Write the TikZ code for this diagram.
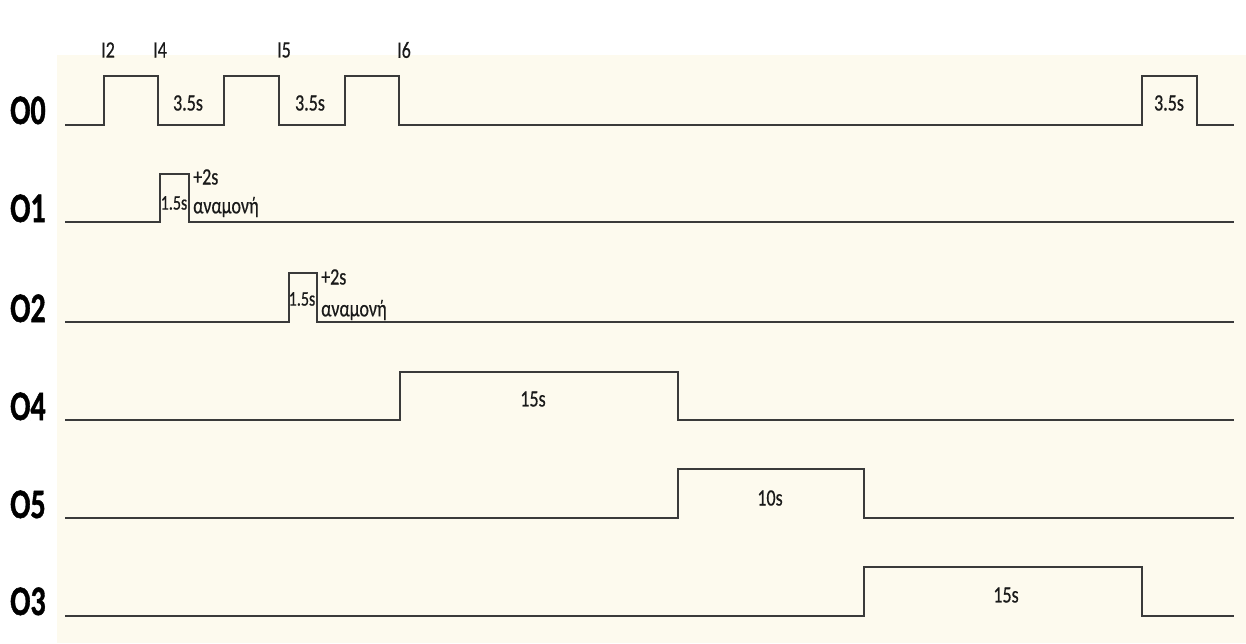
\documentclass[tikz,border=0pt]{standalone}
\usepackage{fontspec}
\setmainfont{Carlito}
\newfontfamily\lblfont[FakeBold=0.6]{Carlito}
\newfontfamily\rowfont[FakeBold=1.2]{Carlito Bold}
\usepackage{graphicx}
\definecolor{bg}{HTML}{FDFAEE}
\definecolor{wavec}{HTML}{3A3A3A}
\definecolor{txt}{HTML}{1A1A1A}
\newcommand\vs[1]{\scalebox{1}[1.3]{#1}}
\newcommand\vsb[1]{\scalebox{1}[1.4]{#1}}
\begin{document}
\begin{tikzpicture}[x=1pt,y=-1pt,
  wave/.style={draw=wavec, line width=1.8pt, line join=miter},
  lbl/.style={font=\lblfont\fontsize{18}{18}\selectfont, text=txt, inner sep=0pt},
  slbl/.style={font=\lblfont\fontsize{16}{16}\selectfont, text=txt, inner sep=0pt},
  rowlbl/.style={font=\rowfont\fontsize{30}{30}\selectfont, text=black, inner sep=0pt, anchor=base west}]
\useasboundingbox (0,0) rectangle (1246,643);
\fill[white] (0,0) rectangle (1246,643);
\fill[bg] (57,55) rectangle (1246,643);
% row labels
\node[rowlbl] (r0) at (10,124) {\vsb{O0}};
\node[rowlbl] (r1) at (10,222) {\vsb{O1}};
\node[rowlbl] (r2) at (10,322) {\vsb{O2}};
\node[rowlbl] (r4) at (10,420) {\vsb{O4}};
\node[rowlbl] (r5) at (10,518) {\vsb{O5}};
\node[rowlbl] (r3) at (10,615) {\vsb{O3}};
% waveforms
\draw[wave] (65,125) -- (104,125) -- (104,76) -- (158,76) -- (158,125) -- (224,125) -- (224,76) -- (279,76) -- (279,125) -- (345,125) -- (345,76) -- (399,76) -- (399,125) -- (1142,125) -- (1142,76) -- (1197,76) -- (1197,125) -- (1234,125);
\draw[wave] (65,222) -- (160,222) -- (160,174) -- (189,174) -- (189,222) -- (1234,222);
\draw[wave] (65,322) -- (289,322) -- (289,273) -- (317,273) -- (317,322) -- (1234,322);
\draw[wave] (65,420) -- (400,420) -- (400,372) -- (678,372) -- (678,420) -- (1234,420);
\draw[wave] (65,518) -- (678,518) -- (678,469) -- (864,469) -- (864,518) -- (1234,518);
\draw[wave] (65,616) -- (864,616) -- (864,567) -- (1142,567) -- (1142,616) -- (1234,616);
% input labels
\node[lbl] (i2) at (108,50) {\vs{I2}};
\node[lbl] (i4) at (160,50) {\vs{I4}};
\node[lbl] (i5) at (284,50) {\vs{I5}};
\node[lbl] (i6) at (404,50) {\vs{I6}};
% durations
\node[lbl] (d1) at (188,103) {\vs{3.5s}};
\node[lbl] (d2) at (310,103) {\vs{3.5s}};
\node[lbl] (d3) at (1169,103) {\vs{3.5s}};
\node[slbl] (p1) at (174,203) {\vs{1.5s}};
\node[lbl,anchor=west] (w1a) at (193,177) {\vs{+2s}};
\node[lbl,anchor=west] (w1b) at (193,207) {\vs{αναμονή}};
\node[slbl] (p2) at (302,299) {\vs{1.5s}};
\node[lbl,anchor=west] (w2a) at (321,277) {\vs{+2s}};
\node[lbl,anchor=west] (w2b) at (321,310) {\vs{αναμονή}};
\node[lbl] (t4) at (533,399) {\vs{15s}};
\node[lbl] (t5) at (770,498) {\vs{10s}};
\node[lbl] (t3) at (1006,595) {\vs{15s}};
\end{tikzpicture}
\end{document}
